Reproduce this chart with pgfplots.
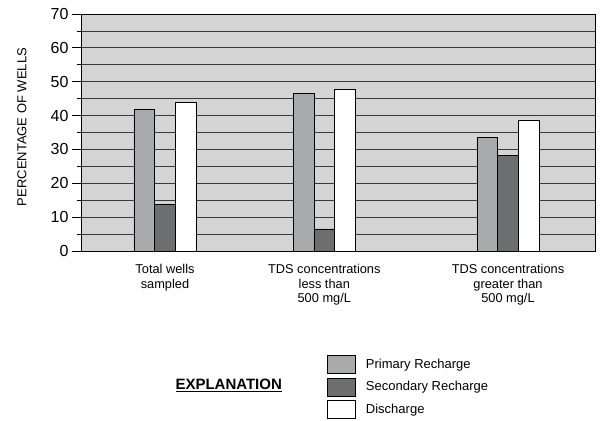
\documentclass[border=0pt]{standalone}
\usepackage{pgfplots}
\pgfplotsset{compat=1.18}
\usepackage{fontspec}
\setmainfont{Liberation Sans}

\definecolor{bgray}{HTML}{D4D4D5}
\definecolor{primary}{HTML}{A9AAAC}
\definecolor{secondary}{HTML}{6D6E70}
\definecolor{gridc}{HTML}{3A3A3A}

\begin{document}
\begin{tikzpicture}
  \begin{axis}[
    scale only axis,
    width=513bp, height=237bp,
    at={(0,0)}, anchor=south west,
    clip mode=individual,
    xmin=0, xmax=513,
    ymin=0, ymax=70,
    ytick={0,10,...,70},
    minor ytick={5,15,...,65},
    ymajorgrids, yminorgrids,
    major grid style={gridc, line width=0.8bp},
    minor grid style={gridc, line width=0.8bp},
    axis background/.style={fill=bgray},
    axis line style={black, line width=1bp},
    tick align=outside,
    ytick pos=left,
    major tick length=10bp,
    minor tick length=5bp,
    tick style={black, line width=0.8bp},
    yticklabel style={font=\fontsize{16bp}{18bp}\selectfont},
    /pgf/number format/assume math mode=true,
    xtick={83,242.3,426},
    xticklabels={Total wells\\sampled,
                 TDS concentrations\\less than\\500 mg/L,
                 TDS concentrations\\greater than\\500 mg/L},
    xtick style={draw=none},
    xticklabel style={align=center, font=\fontsize{12.8bp}{14.5bp}\selectfont},
    ylabel={PERCENTAGE OF WELLS},
    ylabel style={at={(axis description cs:-0.117,0.523)}, anchor=center,
                  rotate=0, font=\fontsize{13bp}{15bp}\selectfont},
    ybar, bar width=20.7,
    legend style={draw=none, fill=none, at={(0.4717,-0.43)}, anchor=north west,
                  font=\fontsize{13bp}{15bp}\selectfont,
                  row sep=3.7bp, column sep=10bp, nodes={inner sep=0pt}},
    legend cell align=left,
    legend image code/.code={\draw[#1, draw=black, line width=0.8bp] (0bp,-9bp) rectangle (28bp,9bp);},
  ]
    \addplot[fill=primary, draw=black, line width=0.8bp, bar shift=-20.7]
      coordinates {(83,41.8) (242.3,46.5) (426,33.6)};
    \addplot[fill=secondary, draw=black, line width=0.8bp, bar shift=0]
      coordinates {(83,13.7) (242.3,6.5) (426,28.2)};
    \addplot[fill=white, draw=black, line width=0.8bp, bar shift=20.7]
      coordinates {(83,44.0) (242.3,47.7) (426,38.7)};
    \legend{Primary Recharge, Secondary Recharge, Discharge}
    \node[anchor=base, font=\fontsize{15bp}{17bp}\selectfont\bfseries]
      at (rel axis cs:0.286,-0.5835) {\underline{EXPLANATION}};
  \end{axis}
  \path[use as bounding box] (-82bp,-167bp) rectangle (518bp,251bp);
\end{tikzpicture}
\end{document}
